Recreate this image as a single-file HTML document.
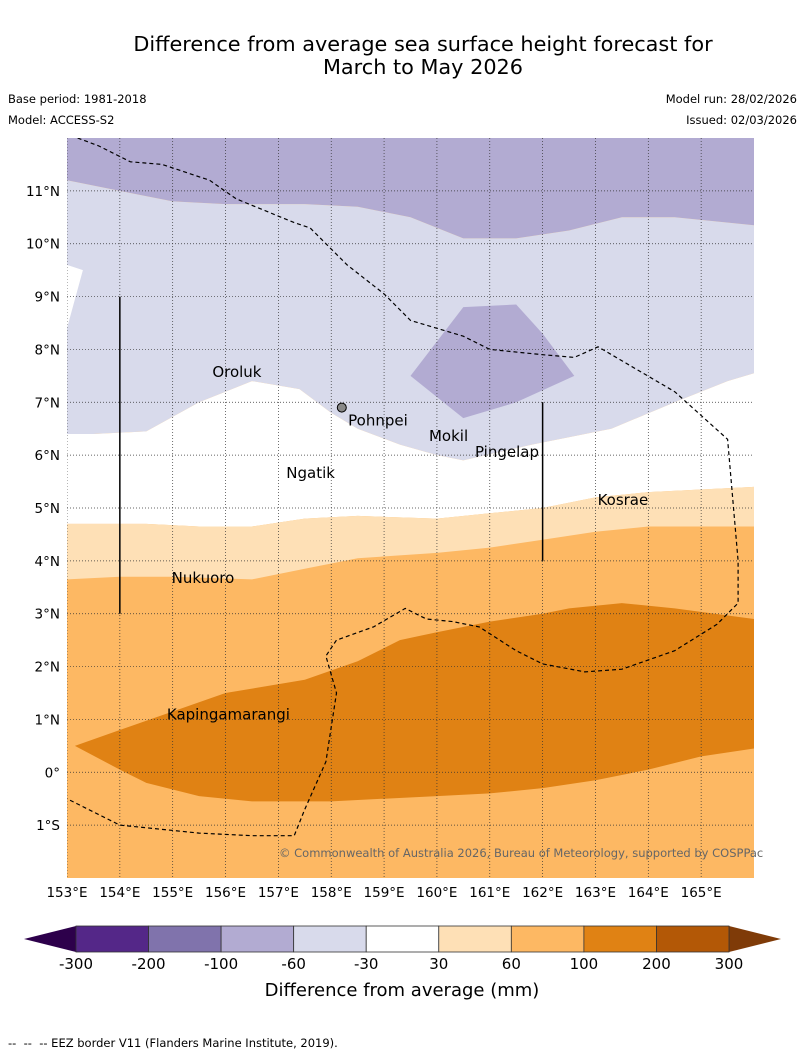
<!DOCTYPE html>
<html><head><meta charset="utf-8"><style>
body{margin:0;background:#fff;font-family:"Liberation Sans","DejaVu Sans",sans-serif}
svg{display:block}
</style></head><body>
<svg width="804" height="1058" xmlns="http://www.w3.org/2000/svg" font-family="DejaVu Sans, Liberation Sans, sans-serif">
<text x="423" y="51" font-size="20.8" text-anchor="middle">Difference from average sea surface height forecast for</text>
<text x="423" y="74" font-size="20.8" text-anchor="middle">March to May 2026</text>
<text x="8" y="103" font-size="11.5">Base period: 1981-2018</text>
<text x="8" y="124" font-size="11.5">Model: ACCESS-S2</text>
<text x="797" y="103" font-size="11.5" text-anchor="end">Model run: 28/02/2026</text>
<text x="797" y="124" font-size="11.5" text-anchor="end">Issued: 02/03/2026</text>
<defs><clipPath id="mc"><rect x="67" y="138" width="687" height="740"/></clipPath></defs>
<g id="map" clip-path="url(#mc)"></g>
<g id="axes"></g>
<g id="labels"></g>
<text x="279" y="857" font-size="11.5" fill="#666">© Commonwealth of Australia 2026, Bureau of Meteorology, supported by COSPPac</text>
<g id="cbar"></g>
<text x="402" y="996" font-size="18" text-anchor="middle">Difference from average (mm)</text>
<text x="8" y="1047" font-size="11.5" xml:space="preserve">--  --  -- EEZ border V11 (Flanders Marine Institute, 2019).</text>
</svg>
<script>
const lonMin=153, lonMax=166, latMin=-2, latMax=12;
const lonTicks=[153,154,155,156,157,158,159,160,161,162,163,164,165];
const latTicks=[-1,0,1,2,3,4,5,6,7,8,9,10,11];
const levels=[-300,-200,-100,-60,-30,30,60,100,200,300];
const levelColors=["#542788","#8073ac","#b2abd2","#d8daeb","#ffffff","#fee0b6","#fdb863","#e08214","#b35806"];
const purpleTop=[[153,11.2],[154,11.0],[155,10.8],[156,10.75],[157.5,10.75],[158.5,10.7],[159.5,10.5],[160.5,10.1],[161.5,10.1],[162.5,10.25],[163.5,10.5],[164.5,10.5],[166,10.35]];
const lilacBottom=[[153,6.4],[153.5,6.4],[154.5,6.45],[155.5,7.0],[156.5,7.4],[157.4,7.25],[158,6.8],[158.5,6.5],[159.3,6.2],[160,6.0],[160.5,5.9],[161.8,6.2],[163.3,6.5],[164.5,7.0],[165.5,7.4],[166,7.55]];
const leftNotch=[[153,9.6],[153.3,9.5],[153,8.4]];
const purplePatch=[[159.5,7.5],[160.5,8.8],[161.5,8.85],[162,8.3],[162.6,7.5],[161.5,7.0],[160.5,6.7]];
const whiteBottom=[[153,4.7],[154.5,4.7],[155.5,4.65],[156.5,4.65],[157.5,4.8],[158.5,4.85],[160,4.8],[161,4.9],[162,5.0],[163,5.2],[164,5.3],[166,5.4]];
const lightOrangeBottom=[[153,3.65],[154,3.7],[155,3.7],[156.5,3.65],[157.5,3.85],[158.5,4.05],[160,4.15],[161,4.25],[162,4.4],[163,4.55],[164,4.65],[166,4.65]];
const darkTop=[[153.15,0.5],[154,0.8],[155,1.15],[156,1.5],[157.5,1.75],[158.5,2.1],[159.3,2.5],[160,2.65],[161,2.85],[162,3.0],[162.5,3.1],[163.5,3.2],[164.5,3.1],[166,2.9]];
const darkBottom=[[166,0.45],[165,0.3],[164,0.05],[163,-0.15],[162,-0.3],[161,-0.4],[160,-0.45],[159,-0.5],[158,-0.55],[156.5,-0.55],[155.5,-0.45],[154.5,-0.2],[154,0.05]];
const eez=[[153.2,12],[153.6,11.85],[154.2,11.55],[154.8,11.5],[155.7,11.2],[156.2,10.85],[157.3,10.4],[157.6,10.3],[158.3,9.6],[159,9.05],[159.5,8.55],[160.5,8.25],[161,8.0],[162,7.9],[162.6,7.85],[163.05,8.05],[164.5,7.2],[165.5,6.3],[165.7,4.0],[165.7,3.2],[165.3,2.8],[164.5,2.3],[163.5,1.95],[162.8,1.9],[162,2.05],[161.5,2.3],[160.8,2.75],[160.3,2.85],[159.8,2.9],[159.4,3.1],[158.8,2.75],[158.1,2.5],[157.9,2.2],[158.1,1.5],[157.9,0.2],[157.5,-0.7],[157.3,-1.2],[156.5,-1.2],[155.5,-1.15],[154,-1.0],[153,-0.5]];
const solidLines=[[[154,9],[154,3]],[[162,7],[162,4]]];
const places=["Oroluk","Pohnpei","Mokil","Pingelap","Ngatik","Kosrae","Nukuoro","Kapingamarangi"];
const placeLon=[155.75,158.32,159.85,160.72,157.15,163.04,154.98,154.89];
const placeLat=[7.57,6.66,6.36,6.06,5.66,5.15,3.68,1.09];

const X=l=>67+(l-lonMin)*(687/(lonMax-lonMin));
const Y=t=>138+(latMax-t)*(740/(latMax-latMin));
const NS="http://www.w3.org/2000/svg";
function mk(tag,attrs,parent){const e=document.createElementNS(NS,tag);for(const k in attrs)e.setAttribute(k,attrs[k]);parent.appendChild(e);return e;}
const pts=a=>a.map(p=>X(p[0]).toFixed(1)+","+Y(p[1]).toFixed(1)).join(" ");
const map=document.getElementById("map");
let e;
e=mk("rect",{x:67,y:138,width:687,height:740,fill:levelColors[6]},map);


function band(top,bottom,color,name){
  const poly=top.concat(bottom.slice().reverse());
  const el=mk("polygon",{points:pts(poly),fill:color},map);
  
  
}
band([[153,12],[166,12]],purpleTop,levelColors[2],"band-minus100-60");
band(purpleTop,lilacBottom,levelColors[3],"band-minus60-30");
band(lilacBottom,whiteBottom,levelColors[4],"band-minus30-30");
band(whiteBottom,lightOrangeBottom,levelColors[5],"band-30-60");
e=mk("polygon",{points:pts([[152.9,9.7]].concat(leftNotch)),fill:"#fff"},map);


e=mk("polygon",{points:pts(purplePatch),fill:levelColors[2]},map);


e=mk("polygon",{points:pts(darkTop.concat(darkBottom)),fill:levelColors[7]},map);


lonTicks.forEach(l=>{const g=mk("line",{x1:X(l),x2:X(l),y1:138,y2:878,stroke:"#333","stroke-width":0.7,"stroke-dasharray":"1,2"},map);

});
latTicks.forEach(t=>{const g=mk("line",{x1:67,x2:754,y1:Y(t),y2:Y(t),stroke:"#333","stroke-width":0.7,"stroke-dasharray":"1,2"},map);

});
e=mk("polyline",{points:pts(eez),fill:"none",stroke:"#000","stroke-width":1.2,"stroke-dasharray":"4,3"},map);


solidLines.forEach(s=>{const l=mk("line",{x1:X(s[0][0]),y1:Y(s[0][1]),x2:X(s[1][0]),y2:Y(s[1][1]),stroke:"#000","stroke-width":1.5},map);

});
e=mk("circle",{cx:X(158.2),cy:Y(6.9),r:4.5,fill:"#888",stroke:"#000"},map);


const lab=document.getElementById("labels");
places.forEach((p,i)=>{const t=mk("text",{x:X(placeLon[i]),y:Y(placeLat[i])+5,"font-size":15},lab);t.textContent=p;

});
const ax=document.getElementById("axes");
lonTicks.forEach(l=>{const t=mk("text",{x:X(l),y:897,"font-size":13.5,"text-anchor":"middle"},ax);t.textContent=l+"°E";

});
latTicks.forEach(v=>{const t=mk("text",{x:60,y:Y(v)+5,"font-size":13.5,"text-anchor":"end"},ax);t.textContent=v===0?"0°":(Math.abs(v)+"°"+(v<0?"S":"N"));

});
const cb=document.getElementById("cbar");
const cx0=76,cw=(729-76)/9,cy=926,ch=26;
e=mk("polygon",{points:`${cx0},${cy} 24,${cy+ch/2} ${cx0},${cy+ch}`,fill:"#2d004b"},cb);


e=mk("polygon",{points:`729,${cy} 781,${cy+ch/2} 729,${cy+ch}`,fill:"#7f3b08"},cb);


levelColors.forEach((c,i)=>{const r=mk("rect",{x:cx0+i*cw,y:cy,width:cw,height:ch,fill:c,stroke:"#333","stroke-width":0.8},cb);

});
levels.forEach((v,i)=>{const t=mk("text",{x:cx0+i*cw,y:969,"font-size":15,"text-anchor":"middle"},cb);t.textContent=v;

});
</script>
</body></html>
